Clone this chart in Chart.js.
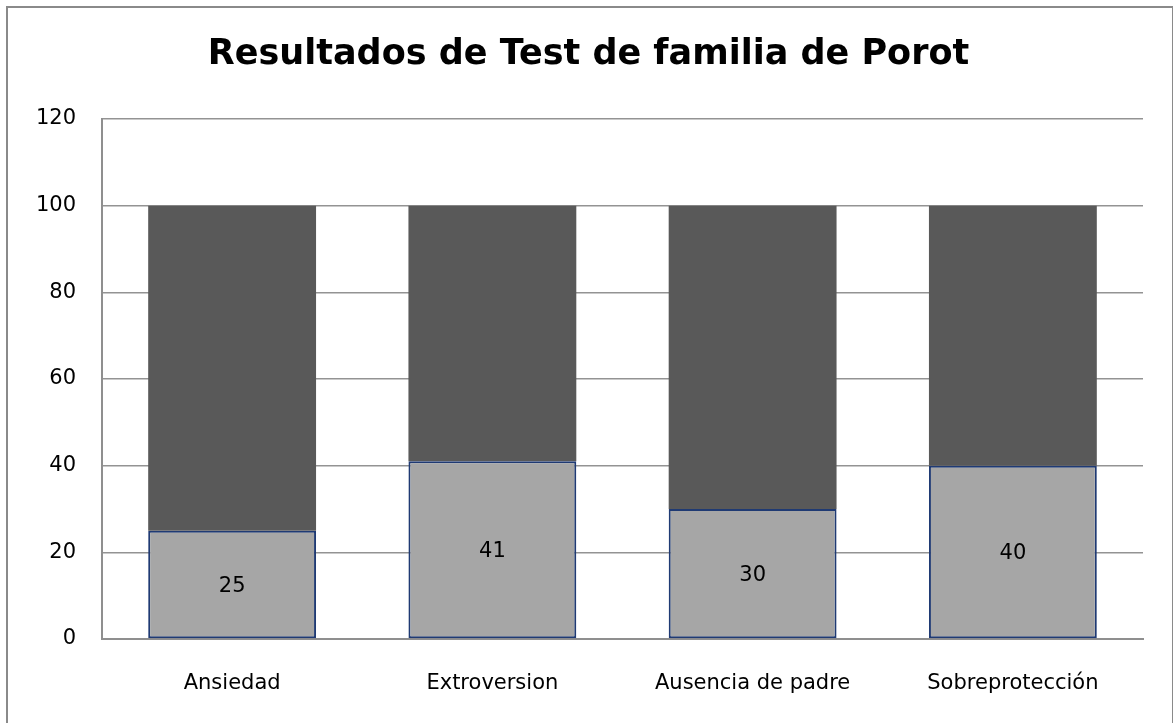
<!DOCTYPE html>
<html>
<head>
<meta charset="utf-8">
<script src="https://cdn.jsdelivr.net/npm/chart.js@4/dist/chart.umd.min.js"></script>
<style>
  html, body { margin: 0; padding: 0; background: #fff; overflow: hidden; }
  #frame { position: absolute; left: 6px; top: 6px; width: 1164px; height: 730px; border: 2px solid #8a8a8a; }
  #myChart { position: absolute; left: 0; top: 0; }
</style>
</head>
<body>
<div id="frame"></div>
<canvas id="myChart" width="1173" height="723"></canvas>
<script>
// data
var categorias = ["Ansiedad", "Extroversion", "Ausencia de padre", "Sobreprotección"];
var resultados = [25, 41, 30, 40];
var resto = [75, 59, 70, 60];
var yTicks = [0, 20, 40, 60, 80, 100, 120];

var fuente = "'DejaVu Sans', 'Liberation Sans', sans-serif";

// value labels in the middle of the light bars
var etiquetas = {
  id: "etiquetas",
  afterDatasetsDraw: function (chart) {
    var ctx = chart.ctx;
    var meta = chart.getDatasetMeta(0);
    ctx.save();
    ctx.font = "21px " + fuente;
    ctx.fillStyle = "#000";
    ctx.textAlign = "center";
    ctx.textBaseline = "middle";
    meta.data.forEach(function (bar, i) {
      ctx.fillText(resultados[i], bar.x, (bar.y + bar.base) / 2 + 2);
    });
    ctx.restore();
  },
};

var ctx = document.getElementById("myChart").getContext("2d");
var myChart = new Chart(ctx, {
  type: "bar",
  data: {
    labels: categorias,
    datasets: [
      {
        label: "Resultado",
        data: resultados,
        backgroundColor: "#a6a6a6",
        borderColor: "#1f3a73",
        borderWidth: 2,
        borderSkipped: false,
      },
      {
        label: "Resto",
        data: resto,
        backgroundColor: "#595959",
        borderWidth: 0,
      },
    ],
  },
  options: {
    responsive: false,
    animation: false,
    devicePixelRatio: 1,
    layout: { padding: { left: 4, right: 0, top: 0, bottom: 0 } },
    datasets: { bar: { barPercentage: 0.645, categoryPercentage: 1 } },
    plugins: {
      legend: { display: false },
      tooltip: { enabled: false },
      title: {
        display: true,
        text: "Resultados de Test de familia de Porot",
        color: "#000",
        font: { family: fuente, size: 35, weight: "bold" },
        padding: { top: 34, bottom: 43 },
      },
    },
    scales: {
      x: {
        stacked: true,
        grid: { display: false, drawTicks: false },
        border: { display: true, color: "#8f8f8f", width: 2 },
        ticks: { color: "#000", font: { family: fuente, size: 21 }, padding: 32, maxRotation: 0 },
        afterFit: function (scale) { scale.height = 84; },
      },
      y: {
        stacked: true,
        min: 0,
        max: 120,
        afterBuildTicks: function (scale) {
          scale.ticks = yTicks.map(function (v) { return { value: v }; });
        },
        grid: { color: "#939393", lineWidth: 1.5, drawTicks: false },
        border: { display: true, color: "#8f8f8f", width: 2 },
        ticks: { color: "#000", font: { family: fuente, size: 21 }, padding: 26 },
        afterFit: function (scale) { scale.width = 98; },
      },
      // empty right margin so the title stays centred on the whole frame
      derecha: {
        type: "linear",
        position: "right",
        grid: { display: false, drawTicks: false },
        border: { display: false },
        ticks: { display: false },
        afterFit: function (scale) { scale.width = 30; },
      },
    },
  },
  plugins: [etiquetas],
});
</script>
</body>
</html>
